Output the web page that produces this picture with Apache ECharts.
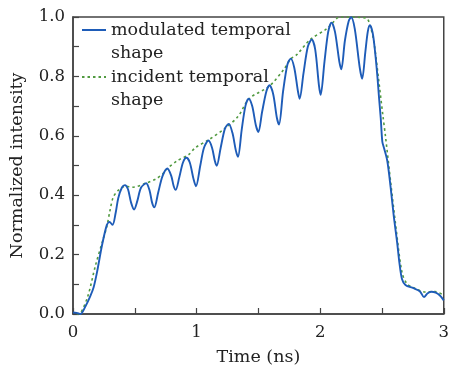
<!DOCTYPE html>
<html>
<head>
<meta charset="utf-8">
<script src="https://cdn.jsdelivr.net/npm/echarts@6/dist/echarts.min.js"></script>
<style>html,body{margin:0;padding:0;background:#fff;}#c{width:452px;height:371px;}</style>
</head>
<body>
<div id="c"></div>
<script>
var seriesNames = ['modulated temporal shape', 'incident temporal shape'];
var xTicks = [0, 1, 2, 3];
var yTicks = [0.0, 0.2, 0.4, 0.6, 0.8, 1.0];
var modulated = [
[0,0.005],[0.03,0.004],[0.06,0.0],[0.10,0.025],[0.14,0.06],[0.167,0.09],[0.194,0.14],[0.234,0.23],[0.274,0.30],[0.295,0.31],[0.32,0.30],[0.345,0.34],[0.366,0.39],[0.395,0.425],[0.42,0.434],[0.445,0.42],[0.47,0.375],[0.494,0.352],[0.52,0.38],[0.55,0.425],[0.592,0.44],[0.62,0.415],[0.64,0.375],[0.658,0.359],[0.69,0.41],[0.725,0.465],[0.764,0.49],[0.795,0.465],[0.815,0.43],[0.831,0.418],[0.86,0.46],[0.89,0.51],[0.918,0.526],[0.945,0.51],[0.975,0.455],[0.995,0.43],[1.03,0.5],[1.06,0.56],[1.096,0.584],[1.125,0.56],[1.148,0.515],[1.163,0.499],[1.195,0.56],[1.23,0.625],[1.26,0.64],[1.29,0.61],[1.318,0.55],[1.335,0.529],[1.365,0.62],[1.395,0.70],[1.422,0.725],[1.45,0.70],[1.48,0.635],[1.50,0.613],[1.53,0.68],[1.565,0.75],[1.59,0.77],[1.62,0.74],[1.65,0.66],[1.667,0.638],[1.70,0.75],[1.735,0.84],[1.762,0.86],[1.79,0.83],[1.82,0.75],[1.834,0.725],[1.865,0.81],[1.90,0.9],[1.932,0.924],[1.96,0.89],[1.99,0.77],[2.004,0.738],[2.035,0.85],[2.065,0.95],[2.092,0.981],[2.12,0.95],[2.155,0.85],[2.171,0.824],[2.20,0.92],[2.23,0.985],[2.251,0.999],[2.28,0.96],[2.32,0.83],[2.340,0.792],[2.365,0.88],[2.385,0.95],[2.402,0.972],[2.425,0.946],[2.445,0.88],[2.463,0.80],[2.476,0.73],[2.49,0.66],[2.503,0.58],[2.516,0.56],[2.543,0.516],[2.57,0.427],[2.596,0.328],[2.623,0.24],[2.641,0.173],[2.662,0.118],[2.69,0.098],[2.755,0.087],[2.808,0.076],[2.84,0.057],[2.87,0.07],[2.90,0.075],[2.935,0.072],[2.967,0.063],[3.0,0.046]
];
var incident = [
[0.03,0.0],[0.06,0.003],[0.12,0.06],[0.181,0.162],[0.247,0.256],[0.274,0.295],[0.30,0.35],[0.326,0.394],[0.366,0.416],[0.42,0.43],[0.486,0.427],[0.592,0.441],[0.672,0.455],[0.725,0.471],[0.764,0.49],[0.84,0.515],[0.937,0.537],[0.99,0.56],[1.096,0.586],[1.229,0.625],[1.335,0.665],[1.428,0.726],[1.588,0.767],[1.707,0.824],[1.76,0.858],[1.813,0.874],[1.919,0.924],[2.052,0.96],[2.10,0.98],[2.158,1.0],[2.37,0.997],[2.41,0.962],[2.436,0.913],[2.47,0.80],[2.507,0.67],[2.53,0.593],[2.569,0.449],[2.609,0.306],[2.662,0.14],[2.702,0.102],[2.76,0.088],[2.848,0.074],[2.928,0.076],[3.0,0.063]
];

var FONT = 'DejaVu Serif';
var LH = 23.5;
function legendFor(name, iconY) {
  return {
    orient: 'vertical', left: 81, top: iconY - 1.5 * LH, padding: 0,
    itemWidth: 24, itemHeight: 14,
    data: [name],
    itemStyle: {opacity: 0},
    formatter: function (n) { return ' \n' + n.replace(' shape', '\nshape'); },
    textStyle: {fontFamily: FONT, fontSize: 17.5, color: '#222', lineHeight: LH}
  };
}
var chart = echarts.init(document.getElementById('c'), null, {renderer: 'canvas'});
chart.setOption({
  animation: false,
  backgroundColor: '#fff',
  grid: {left: 72, right: 2, top: 17, bottom: 52, show: true, borderColor: '#444', borderWidth: 1.5, backgroundColor: 'transparent'},
  legend: [legendFor(seriesNames[0], 30), legendFor(seriesNames[1], 77)],
  xAxis: {
    type: 'value', min: xTicks[0], max: xTicks[xTicks.length - 1], interval: 1,
    name: 'Time (ns)', nameLocation: 'middle', nameGap: 34,
    nameTextStyle: {fontFamily: FONT, fontSize: 17.5, color: '#222'},
    axisLine: {lineStyle: {color: '#444', width: 1.5}},
    axisTick: {inside: true, length: 6, lineStyle: {color: '#444', width: 1.2}},
    minorTick: {show: true, splitNumber: 2, length: 6, lineStyle: {color: '#444', width: 1.2}},
    axisLabel: {fontFamily: FONT, fontSize: 16.5, color: '#222', margin: 10},
    splitLine: {show: false}, minorSplitLine: {show: false}
  },
  yAxis: {
    type: 'value', min: yTicks[0], max: yTicks[yTicks.length - 1], interval: 0.2,
    name: 'Normalized intensity', nameLocation: 'middle', nameGap: 47,
    nameTextStyle: {fontFamily: FONT, fontSize: 17.5, color: '#222'},
    axisLine: {lineStyle: {color: '#444', width: 1.5}},
    axisTick: {inside: true, length: 6, lineStyle: {color: '#444', width: 1.2}},
    minorTick: {show: true, splitNumber: 2, length: 6, lineStyle: {color: '#444', width: 1.2}},
    axisLabel: {fontFamily: FONT, fontSize: 16.5, color: '#222', margin: 8, formatter: function (v) { return v.toFixed(1); }},
    splitLine: {show: false}, minorSplitLine: {show: false}
  },
  series: [
    {name: seriesNames[0], type: 'line', data: modulated, symbol: 'none', smooth: 0.3, z: 3,
     lineStyle: {color: '#1e5cb8', width: 1.9}, itemStyle: {color: '#1e5cb8'}},
    {name: seriesNames[1], type: 'line', data: incident, symbol: 'none', smooth: 0.3, z: 2,
     lineStyle: {color: '#519a40', width: 1.6, type: [2.5, 3]}, itemStyle: {color: '#519a40'}}
  ]
});
</script>
</body>
</html>
